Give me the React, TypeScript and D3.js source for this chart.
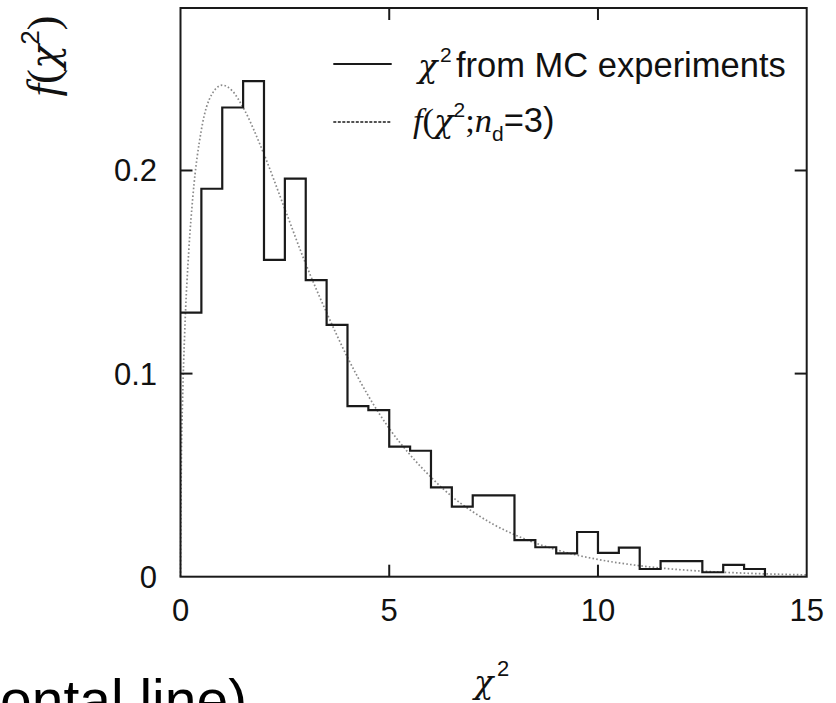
import React from "react";
import * as d3 from "d3";

// Histogram of chi^2 from MC experiments: bin width 0.5 from 0 to 14
const binEdges = [0, 0.5, 1, 1.5, 2, 2.5, 3, 3.5, 4, 4.5, 5, 5.5, 6, 6.5, 7, 7.5, 8, 8.5, 9, 9.5, 10, 10.5, 11, 11.5, 12, 12.5, 13, 13.5, 14];
const binValues = [0.130, 0.191, 0.231, 0.244, 0.156, 0.196, 0.146, 0.124, 0.084, 0.082, 0.064, 0.062, 0.044, 0.0345, 0.040, 0.040, 0.018, 0.0145, 0.0115, 0.022, 0.0117, 0.0143, 0.0038, 0.0077, 0.0077, 0.0022, 0.0058, 0.0038];

// Theoretical curve f(chi^2; n_d = 3)
const curveX = [0, 0.02, 0.05, 0.1, 0.2, 0.3, 0.5, 0.75, 1, 1.25, 1.5, 2, 2.5, 3, 3.5, 4, 4.5, 5, 5.5, 6, 6.5, 7, 7.5, 8, 8.5, 9, 9.5, 10, 11, 12, 13, 14, 15];
const curveY = [0, 0.056, 0.087, 0.120, 0.161, 0.188, 0.220, 0.2375, 0.242, 0.239, 0.231, 0.208, 0.181, 0.154, 0.130, 0.108, 0.089, 0.073, 0.060, 0.049, 0.0395, 0.032, 0.0257, 0.0207, 0.0166, 0.0133, 0.0106, 0.0085, 0.0054, 0.0034, 0.0022, 0.0014, 0.0009];

const xTicks = [0, 5, 10, 15];
const yTicks = [0, 0.1, 0.2];
const yTickLabels = ["0", "0.1", "0.2"];

const W = 836;
const H = 703;

export default function App() {
  const x = d3.scaleLinear().domain([0, 15]).range([180.5, 806.7]);
  const y = d3.scaleLinear().domain([0, 0.28]).range([576.7, 8]);

  // histogram step path
  const stepPts: [number, number][] = [];
  binValues.forEach((v, i) => {
    stepPts.push([binEdges[i], v]);
    stepPts.push([binEdges[i + 1], v]);
  });
  stepPts.push([binEdges[binEdges.length - 1], 0]);
  const histPath = d3
    .line<[number, number]>()
    .x((d) => x(d[0]))
    .y((d) => y(d[1]))(stepPts) as string;

  const curvePts = curveX.map((cx, i) => [cx, curveY[i]] as [number, number]);
  const curvePath = d3
    .line<[number, number]>()
    .x((d) => x(d[0]))
    .y((d) => y(d[1]))
    .curve(d3.curveMonotoneX)(curvePts) as string;

  const [x0, x1] = x.range();
  const [y0, y1] = y.range();
  const tickLen = 12;
  const axisColor = "#1a1a1a";
  const sans = "'Liberation Sans', Arial, sans-serif";
  const serif = "'Liberation Serif', 'Times New Roman', serif";
  const chiFont = "'DejaVu Serif', serif";

  return (
    <svg
      width={W}
      height={H}
      style={{ position: "absolute", left: 0, top: 0, background: "#fff" }}
    >
      <rect x={0} y={0} width={W} height={H} fill="#fff" />
      {/* theoretical curve */}
      <path d={curvePath} fill="none" stroke="#8a8a8a" strokeWidth={1.7} strokeDasharray="1.6,2.2" />
      {/* histogram */}
      <path d={histPath} fill="none" stroke={axisColor} strokeWidth={2.2} />

      {/* frame */}
      <rect x={x0} y={y1} width={x1 - x0} height={y0 - y1} fill="none" stroke={axisColor} strokeWidth={2} />

      {/* x ticks */}
      {xTicks.map((t) => (
        <g key={"xt" + t}>
          {t > 0 && t < 15 && (
            <>
              <line x1={x(t)} x2={x(t)} y1={y0} y2={y0 - tickLen} stroke={axisColor} strokeWidth={2} />
              <line x1={x(t)} x2={x(t)} y1={y1} y2={y1 + tickLen} stroke={axisColor} strokeWidth={2} />
            </>
          )}
          <text x={x(t)} y={621} textAnchor="middle" fontFamily={sans} fontSize={31} fill="#111">
            {t}
          </text>
        </g>
      ))}

      {/* y ticks */}
      {yTicks.map((t, i) => (
        <g key={"yt" + t}>
          {t > 0 && (
            <>
              <line x1={x0} x2={x0 + tickLen} y1={y(t)} y2={y(t)} stroke={axisColor} strokeWidth={2} />
              <line x1={x1} x2={x1 - tickLen} y1={y(t)} y2={y(t)} stroke={axisColor} strokeWidth={2} />
            </>
          )}
          <text x={157} y={y(t) + 11} textAnchor="end" fontFamily={sans} fontSize={31} fill="#111">
            {yTickLabels[i]}
          </text>
        </g>
      ))}

      {/* legend */}
      <line x1={333.3} x2={391.7} y1={64} y2={64} stroke={axisColor} strokeWidth={2} />
      <line x1={333.3} x2={391.7} y1={122} y2={122} stroke={axisColor} strokeWidth={1.6} strokeDasharray="3,1.5" />
      <text y={77} fontFamily={sans} fontSize={34.5} fill="#111">
        <tspan x={418} fontFamily={chiFont} fontStyle="italic" fontSize={32}>χ</tspan>
        <tspan x={440} fontSize={21} dy={-15}>2</tspan>
        <tspan x={456} dy={15}>from MC experiments</tspan>
      </text>
      <text y={132} fontFamily={sans} fontSize={34.5} fill="#111">
        <tspan x={413} fontFamily={serif} fontStyle="italic">f</tspan>
        <tspan fontFamily={serif}>(</tspan>
        <tspan fontFamily={chiFont} fontStyle="italic" fontSize={32}>χ</tspan>
        <tspan fontSize={21} dy={-15}>2</tspan>
        <tspan fontFamily={serif} dy={15}>;</tspan>
        <tspan fontFamily={serif} fontStyle="italic">n</tspan>
        <tspan fontSize={21} dy={9}>d</tspan>
        <tspan dy={-9}>=3)</tspan>
      </text>

      {/* y axis label */}
      <text
        transform="translate(58,56) rotate(-90)"
        textAnchor="middle"
        fontFamily={serif}
        fontSize={45}
        fill="#111"
      >
        <tspan fontStyle="italic">f</tspan>
        <tspan>(</tspan>
        <tspan fontFamily={chiFont} fontStyle="italic" fontSize={40}>χ</tspan>
        <tspan fontFamily={sans} fontSize={26} dy={-19}>2</tspan>
        <tspan dy={19}>)</tspan>
      </text>

      {/* x axis label */}
      <text y={693} fontFamily={chiFont} fontSize={32} fill="#111">
        <tspan x={474} fontStyle="italic">χ</tspan>
        <tspan x={497} y={676} fontFamily={sans} fontSize={22}>2</tspan>
      </text>

      {/* clipped slide text at the bottom */}
      <text x={0} y={720} fontFamily={sans} fontSize={57} fill="#000">
        ontal line)
      </text>
    </svg>
  );
}
